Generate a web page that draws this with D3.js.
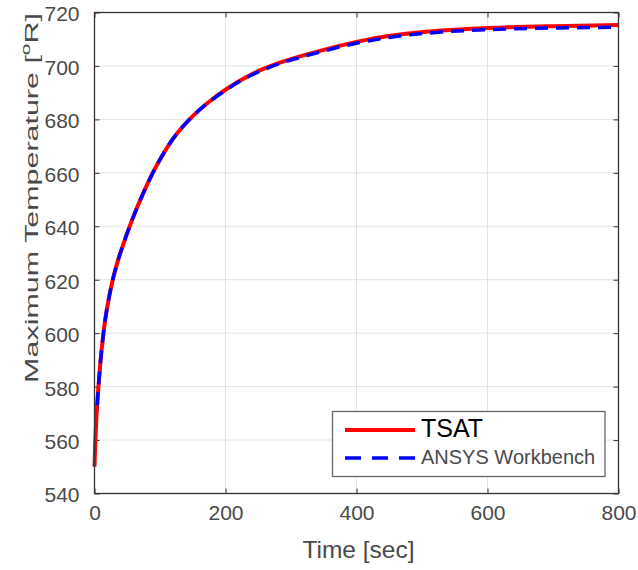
<!DOCTYPE html>
<html>
<head>
<meta charset="utf-8">
<script src="https://cdn.jsdelivr.net/npm/d3@7"></script>
<style>
  html, body { margin: 0; padding: 0; background: #fff; }
  svg { display: block; font-family: Arial, "Liberation Sans", Helvetica, sans-serif; }
</style>
</head>
<body>
<svg id="chart" width="638" height="570"></svg>
<script>
// ---- data ----
const xTicks = [0, 200, 400, 600, 800];
const yTicks = [540, 560, 580, 600, 620, 640, 660, 680, 700, 720];

const tsatTime  = [0, 1, 2, 3, 4, 6, 9, 12.5, 16, 20, 26, 35, 45, 53, 65, 75, 88, 100, 120, 147, 175, 200, 240, 283, 330, 400, 430, 466, 530, 600, 700, 800];
const tsatTemp  = [550, 558, 564, 569, 573, 580, 589, 597.5, 604.5, 610.5, 618, 626.5, 634, 639.5, 647, 652.7, 659.5, 665, 672.8, 680.5, 686.6, 691.1, 696.9, 701.2, 704.7, 709, 710.5, 711.8, 713.3, 714.2, 714.9, 715.3];

const ansysTime = [4, 6, 9, 12.5, 16, 20, 26, 35, 45, 53, 65, 75, 88, 100, 120, 147, 175, 200, 240, 283, 330, 400, 430, 466, 530, 600, 700, 800];
const ansysTemp = [573, 580, 589, 597.5, 604.5, 610.5, 618, 626.5, 634, 639.5, 647, 652.7, 659.5, 665, 672.8, 680.5, 686.5, 690.9, 696.6, 700.9, 704.3, 708.5, 709.9, 711.2, 712.7, 713.6, 714.2, 714.5];

const seriesNames = ["TSAT", "ANSYS Workbench"];

// ---- layout ----
const svg = d3.select("#chart");
const L = 94.5, R = 618.5, T = 12.5, B = 493.5;
const x = d3.scaleLinear().domain([0, 800]).range([L, R]);
const y = d3.scaleLinear().domain([540, 720]).range([B, T]);

const gridColor = "#e3e3e3";
const axisColor = "#333";
const textColor = "#4a4a4a";

// grid
svg.append("g").selectAll("line").data(xTicks.slice(1, -1)).join("line")
  .attr("x1", d => x(d)).attr("x2", d => x(d)).attr("y1", T).attr("y2", B)
  .attr("stroke", gridColor).attr("stroke-width", 1);
svg.append("g").selectAll("line").data(yTicks.slice(1, -1)).join("line")
  .attr("y1", d => y(d)).attr("y2", d => y(d)).attr("x1", L).attr("x2", R)
  .attr("stroke", gridColor).attr("stroke-width", 1);

// axes (ticks inside)
const tickLen = 5;
const xAxisB = d3.axisBottom(x).tickValues(xTicks).tickSize(-tickLen).tickPadding(tickLen + 12).tickFormat(d3.format("d"));
const xAxisT = d3.axisTop(x).tickValues(xTicks).tickSize(-tickLen).tickFormat("");
const yAxisL = d3.axisLeft(y).tickValues(yTicks).tickSize(-tickLen).tickPadding(tickLen + 10).tickFormat(d3.format("d"));
const yAxisR = d3.axisRight(y).tickValues(yTicks).tickSize(-tickLen).tickFormat("");

function styleAxis(g) {
  g.select(".domain").remove();
  g.selectAll(".tick line").attr("stroke", axisColor).attr("stroke-width", 1);
  g.selectAll(".tick text").attr("fill", textColor).attr("font-size", 21)
    .attr("font-family", "Arial, 'Liberation Sans', sans-serif");
}
svg.append("g").attr("transform", `translate(0,${B})`).call(xAxisB).call(styleAxis)
  .selectAll(".tick text").attr("dy", "0.45em");
svg.append("g").attr("transform", `translate(0,${T})`).call(xAxisT).call(styleAxis);
svg.append("g").attr("transform", `translate(${L},0)`).call(yAxisL).call(styleAxis)
  .selectAll(".tick text").attr("dy", "0.4em");
svg.append("g").attr("transform", `translate(${R},0)`).call(yAxisR).call(styleAxis);

// lines
const line = d3.line().x(d => x(d[0])).y(d => y(d[1])).curve(d3.curveMonotoneX);
const tsatData = tsatTime.map((t, i) => [t, tsatTemp[i]]);
const ansysData = ansysTime.map((t, i) => [t, ansysTemp[i]]);

svg.append("path").datum(tsatData).attr("d", line)
  .attr("fill", "none").attr("stroke", "#ff0000").attr("stroke-width", 4)
  .attr("stroke-linejoin", "round");
svg.append("path").datum(ansysData).attr("d", line)
  .attr("fill", "none").attr("stroke", "#0000ff").attr("stroke-width", 3.5)
  .attr("stroke-dasharray", "13,8");

// box
svg.append("rect").attr("x", L).attr("y", T).attr("width", R - L).attr("height", B - T)
  .attr("fill", "none").attr("stroke", axisColor).attr("stroke-width", 1.3);

// axis labels
svg.append("text").attr("x", (L + R) / 2 + 2).attr("y", 558).attr("text-anchor", "middle")
  .attr("font-size", 24.5).attr("fill", textColor).text("Time [sec]");

const yl = svg.append("text").attr("text-anchor", "middle").attr("font-size", 19).attr("fill", textColor);
yl.append("tspan").text("Maximum Temperature [");
yl.append("tspan").attr("font-size", 13).attr("dy", -8).text("o");
yl.append("tspan").attr("dy", 8).text("R]");
const ylLen = yl.node().getComputedTextLength();
const ylTarget = 370;
yl.attr("transform", `translate(38,198) rotate(-90) scale(${ylTarget / ylLen},1)`);

// legend
const lg = svg.append("g");
lg.append("rect").attr("x", 332.5).attr("y", 411.5).attr("width", 272.5).attr("height", 65)
  .attr("fill", "#fff").attr("stroke", "#666").attr("stroke-width", 1.3);
lg.append("line").attr("x1", 345).attr("x2", 415).attr("y1", 430).attr("y2", 430)
  .attr("stroke", "#ff0000").attr("stroke-width", 4);
lg.append("line").attr("x1", 345).attr("x2", 415).attr("y1", 458).attr("y2", 458)
  .attr("stroke", "#0000ff").attr("stroke-width", 3.5).attr("stroke-dasharray", "16,11");
lg.append("text").attr("x", 421).attr("y", 437).attr("font-size", 25).attr("fill", "#000").text(seriesNames[0]);
lg.append("text").attr("x", 421).attr("y", 464).attr("font-size", 20).attr("fill", textColor).text(seriesNames[1]);
</script>
</body>
</html>
